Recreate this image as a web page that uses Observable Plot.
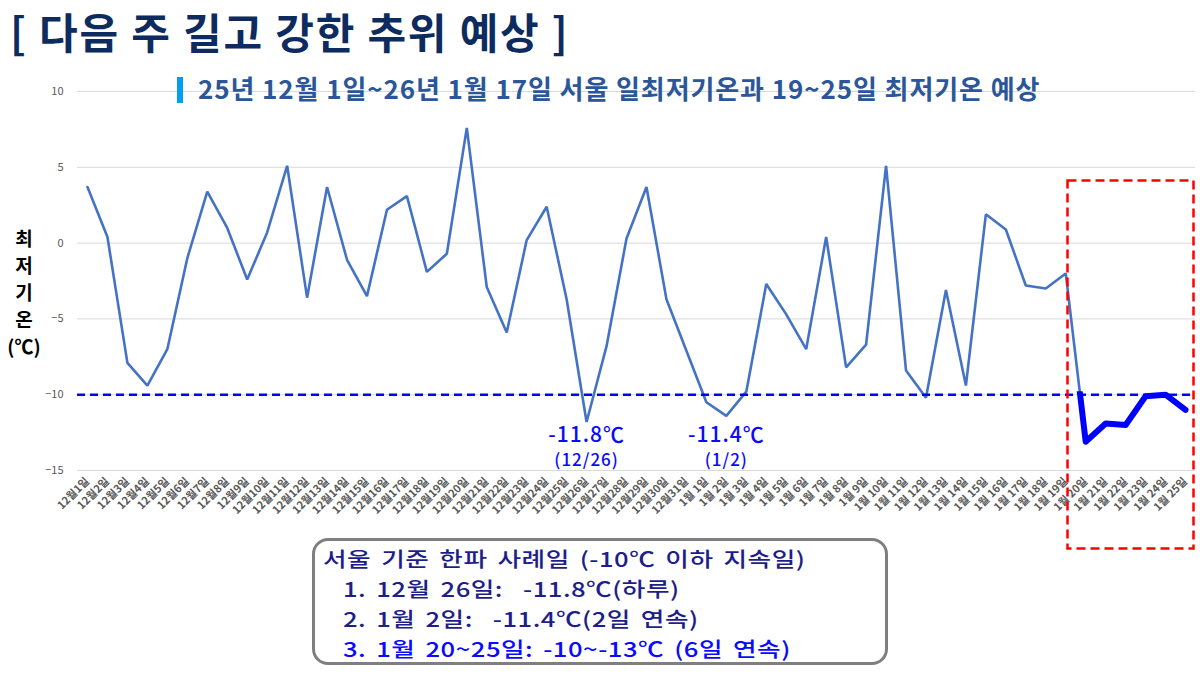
<!DOCTYPE html>
<html><head><meta charset="utf-8">
<script src="https://cdn.jsdelivr.net/npm/d3@7"></script>
<script src="https://cdn.jsdelivr.net/npm/@observablehq/plot@0.6"></script>
<style>
body{margin:0;background:#fff;font-family:"Noto Sans CJK KR",sans-serif;}
#wrap{position:relative;width:1200px;height:675px;overflow:hidden;background:#fff;}
#chart{position:absolute;left:0;top:0;}
.title{position:absolute;left:10px;top:2px;font-size:42px;font-weight:700;color:#0d2b5e;white-space:nowrap;line-height:58px;letter-spacing:1.8px;}
.subbar{position:absolute;left:177px;top:77px;width:6px;height:26px;background:#00a0f0;}
.sub{position:absolute;left:198px;top:70px;font-size:26px;font-weight:700;color:#2b579a;line-height:36px;white-space:nowrap;letter-spacing:0.9px;}
.ylab{position:absolute;left:6px;top:224px;width:36px;text-align:center;font-size:19px;font-weight:700;line-height:27px;color:#000;}
.box{position:absolute;left:312px;top:538px;width:570px;height:121px;border:3px solid #7f7f7f;border-radius:16px;background:#fff;box-sizing:content-box;}
.box div{position:absolute;white-space:nowrap;font-size:20.5px;font-weight:500;line-height:30px;color:#1e1e8a;letter-spacing:0.4px;word-spacing:3px;transform:scaleX(1.25);transform-origin:0 50%;}
#overlay{position:absolute;left:0;top:0;pointer-events:none;}
#chart svg text.annot{letter-spacing:1px;}
</style>
</head><body>
<div id="wrap">
  <div id="chart"></div>
  <div class="title">[ 다음 주 길고 강한 추위 예상 ]</div>
  <div class="subbar"></div>
  <div class="sub">25년 12월 1일~26년 1월 17일 서울 일최저기온과 19~25일 최저기온 예상</div>
  <div class="ylab">최<br>저<br>기<br>온<br>(℃)</div>
  <svg id="overlay" width="1200" height="675"><rect x="1067.5" y="180.5" width="126" height="368" fill="none" stroke="#ff0000" stroke-width="2.5" stroke-dasharray="9 5"/></svg>
  <div class="box">
    <div style="left:8px;top:2px;">서울 기준 한파 사례일 (-10℃ 이하 지속일)</div>
    <div style="left:28px;top:32px;">1. 12월 26일:&nbsp; -11.8℃(하루)</div>
    <div style="left:28px;top:62px;">2. 1월 2일:&nbsp; -11.4℃(2일 연속)</div>
    <div style="left:28px;top:92px;color:#0a0aff;">3. 1월 20~25일: -10~-13℃ (6일 연속)</div>
  </div>
</div>
<script>
// Dates (x categories)
const dates = [
  "12월1일","12월2일","12월3일","12월4일","12월5일","12월6일","12월7일","12월8일","12월9일","12월10일",
  "12월11일","12월12일","12월13일","12월14일","12월15일","12월16일","12월17일","12월18일","12월19일","12월20일",
  "12월21일","12월22일","12월23일","12월24일","12월25일","12월26일","12월27일","12월28일","12월29일","12월30일",
  "12월31일","1월 1일","1월 2일","1월 3일","1월 4일","1월 5일","1월 6일","1월 7일","1월 8일","1월 9일",
  "1월 10일","1월 11일","1월 12일","1월 13일","1월 14일","1월 15일","1월 16일","1월 17일","1월 18일","1월 19일",
  "1월 20일","1월 21일","1월 22일","1월 23일","1월 24일","1월 25일"
];
// Observed daily minimum temperature, 12/1 - 1/19 (°C)
const observed = [
  3.7, 0.4, -7.9, -9.4, -7.0, -1.0, 3.4, 1.0, -2.4, 0.7,
  5.1, -3.6, 3.7, -1.1, -3.5, 2.2, 3.1, -1.9, -0.7, 7.6,
  -2.9, -5.9, 0.2, 2.4, -3.7, -11.8, -6.8, 0.3, 3.7, -3.7,
  -7.1, -10.5, -11.4, -9.8, -2.7, -4.7, -7.0, 0.4, -8.2, -6.7,
  5.1, -8.4, -10.2, -3.1, -9.4, 1.9, 0.9, -2.8, -3.0, -2.0
];
// Forecast minimum temperature, 1/20 - 1/25 (°C)
const forecast = [-13.1, -11.9, -12.0, -10.1, -10.0, -11.0];
const threshold = -10;
const yTicks = [-15, -10, -5, 0, 5, 10];
// Cold-wave annotations
const annotDates = ["12월26일", "1월 2일"];
const annotValues = ["-11.8℃", "-11.4℃"];
const annotSubs = ["(12/26)", "(1/2)"];

const nObs = observed.length;
const thin = observed.map((v, i) => ({date: dates[i], t: v}))
  .concat([{date: dates[nObs], t: forecast[0]}]);
const thick = [{date: dates[nObs - 1], t: observed[nObs - 1]}]
  .concat(forecast.map((v, i) => ({date: dates[nObs + i], t: v})));
const annots = annotDates.map((d, i) => ({date: d, value: annotValues[i], sub: annotSubs[i]}));

const chart = Plot.plot({
  width: 1200,
  height: 675,
  marginLeft: 77,
  marginRight: 5,
  marginTop: 91,
  marginBottom: 205,
  style: {fontFamily: '"Noto Sans CJK KR", sans-serif', color: "#595959", background: "transparent"},
  x: {type: "point", domain: dates, padding: 0.5},
  y: {domain: [-15, 10]},
  marks: [
    Plot.gridY(yTicks, {stroke: "#d9d9d9", strokeOpacity: 1, strokeWidth: 1}),
    Plot.line(thin, {x: "date", y: "t", stroke: "#4472c4", strokeWidth: 2.6, strokeLinejoin: "miter"}),
    Plot.ruleY([threshold], {stroke: "#0000ff", strokeWidth: 2.5, strokeDasharray: "8 5"}),
    Plot.line(thick, {x: "date", y: "t", stroke: "#0000ff", strokeWidth: 6, strokeLinejoin: "round"}),
    Plot.text(annots, {x: "date", y: () => -12.65, text: "value", fill: "#0a0aff", fontSize: 21, fontWeight: 500}),
    Plot.text(annots, {x: "date", y: () => -14.35, text: "sub", fill: "#0a0aff", fontSize: 17, fontWeight: 500}),
    Plot.axisY(yTicks, {tickSize: 0, tickPadding: 14, fontSize: 11, fill: "#595959", label: null}),
    Plot.axisX({tickSize: 0, tickPadding: 9, tickRotate: -45, fontSize: 11, fontWeight: 600, fill: "#595959", label: null})
  ]
});
document.getElementById("chart").appendChild(chart);

// letter spacing for annotation labels
chart.querySelectorAll('g[aria-label="text"] text').forEach(t => t.classList.add("annot"));

// clip the thick forecast line to the region at/below the -10 threshold
try {
  const ys = chart.scale("y");
  const yc = ys.apply(threshold) - 3.5;
  const ns = "http://www.w3.org/2000/svg";
  const defs = document.createElementNS(ns, "defs");
  const cp = document.createElementNS(ns, "clipPath");
  cp.setAttribute("id", "belowTen");
  const r = document.createElementNS(ns, "rect");
  r.setAttribute("x", -10); r.setAttribute("y", yc);
  r.setAttribute("width", 1220); r.setAttribute("height", 700);
  cp.appendChild(r); defs.appendChild(cp); chart.insertBefore(defs, chart.firstChild);
  const lines = chart.querySelectorAll('g[aria-label="line"]');
  if (lines.length > 1) lines[1].setAttribute("clip-path", "url(#belowTen)");
} catch (e) {}
</script>
</body></html>
